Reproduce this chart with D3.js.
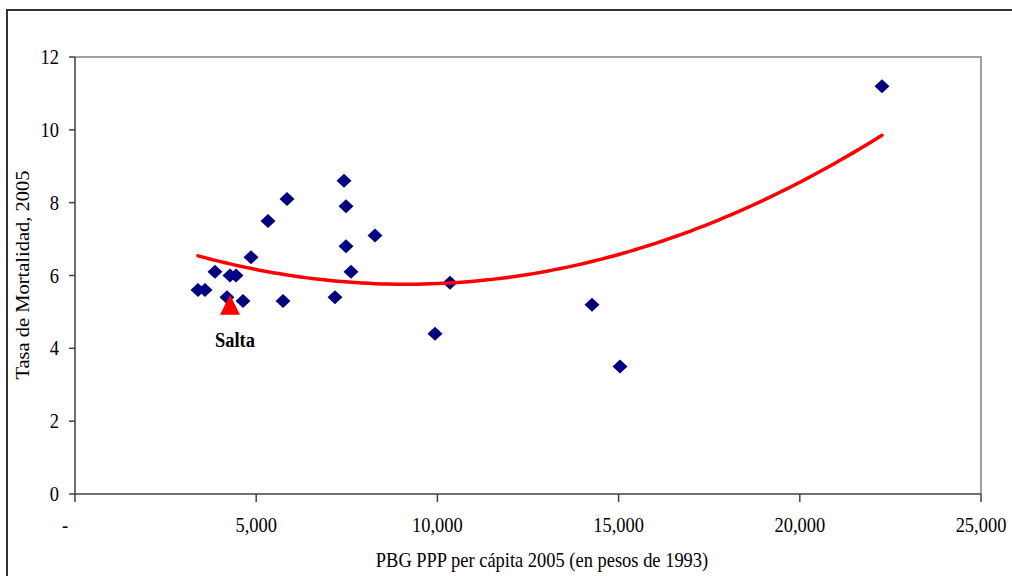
<!DOCTYPE html>
<html>
<head>
<meta charset="utf-8">
<script src="https://cdn.jsdelivr.net/npm/d3@7"></script>
<style>
  html, body { margin: 0; padding: 0; background: #fff; }
  svg { display: block; }
  text { font-family: "Liberation Serif", "Times New Roman", serif; fill: #000; }
</style>
</head>
<body>
<svg id="chart" width="1012" height="576"></svg>
<script>
// Provinces: GDP per capita 2005 (1993 pesos) and mortality rate 2005
const pbgPerCapita = [3394, 3587, 3863, 4194, 4277, 4443, 4636, 4857, 5326, 5850, 5740,
                      7174, 7423, 7478, 7478, 7616, 8278, 9934, 10348, 14266, 15039, 22268];
const mortalidad   = [5.6, 5.6, 6.1, 5.4, 6.0, 6.0, 5.3, 6.5, 7.5, 8.1, 5.3,
                      5.4, 8.6, 7.9, 6.8, 6.1, 7.1, 4.4, 5.8, 5.2, 3.5, 11.2];

// Highlighted province
const saltaPbg = [4277];
const saltaMort = [5.2];
const saltaLabel = ["Salta"];

const xTicks = [0, 5000, 10000, 15000, 20000, 25000];
const yTicks = [0, 2, 4, 6, 8, 10, 12];
const xTitle = "PBG PPP per cápita 2005 (en pesos de 1993)";
const yTitle = "Tasa de Mortalidad, 2005";

const svg = d3.select("#chart");
const fontSize = 20.5;
const squeeze = 0.9;   // glyphs are narrower than they are tall

const x = d3.scaleLinear().domain([0, 25000]).range([75, 981]);
const y = d3.scaleLinear().domain([0, 12]).range([494, 57]);

// outer chart frame
svg.append("rect")
  .attr("x", 7).attr("y", 10).attr("width", 1020).attr("height", 580)
  .attr("fill", "none").attr("stroke", "#333").attr("stroke-width", 2);

// plot area frame (top and right sides)
svg.append("path")
  .attr("d", `M${x(0)},${y(12)} H${x(25000)} V${y(0)}`)
  .attr("fill", "none").attr("stroke", "#a0a0a0").attr("stroke-width", 2);

function label(g, px, py, txt, opts = {}) {
  return g.append("text")
    .attr("transform", `translate(${px},${py}) scale(${squeeze},1) rotate(${opts.rotate || 0})`)
    .attr("text-anchor", opts.anchor || "middle")
    .style("font-size", (opts.size || fontSize) + "px")
    .style("font-weight", opts.weight || "normal")
    .text(txt);
}

// y axis
const yAxis = svg.append("g");
yAxis.append("line")
  .attr("x1", x(0)).attr("x2", x(0)).attr("y1", y(12)).attr("y2", y(0))
  .attr("stroke", "#404040").attr("stroke-width", 1.5);
yTicks.forEach(v => {
  yAxis.append("line")
    .attr("x1", x(0) - 6).attr("x2", x(0)).attr("y1", y(v)).attr("y2", y(v))
    .attr("stroke", "#404040").attr("stroke-width", 1.5);
  label(yAxis, x(0) - 16, y(v) + 7, String(v), { anchor: "end" });
});

// x axis
const xAxis = svg.append("g");
xAxis.append("line")
  .attr("x1", x(0)).attr("x2", x(25000)).attr("y1", y(0)).attr("y2", y(0))
  .attr("stroke", "#404040").attr("stroke-width", 1.5);
const fmt = d3.format(",");
xTicks.forEach(v => {
  xAxis.append("line")
    .attr("x1", x(v)).attr("x2", x(v)).attr("y1", y(0)).attr("y2", y(0) + 8)
    .attr("stroke", "#404040").attr("stroke-width", 1.5);
  if (v === 0) label(xAxis, x(v) - 10, 532, "-");
  else label(xAxis, x(v), 532, fmt(v));
});

// axis titles
label(svg, 542, 567, xTitle);
label(svg, 29, 275, yTitle, { rotate: -90 });

// quadratic least-squares trend of mortality on GDP per capita (all provinces)
function quadFit(xs, ys) {
  const s = [0, 0, 0, 0, 0], t = [0, 0, 0];
  xs.forEach((xv, i) => {
    const u = xv / 1000;
    let p = 1;
    for (let k = 0; k < 5; k++) { s[k] += p; if (k < 3) t[k] += p * ys[i]; p *= u; }
  });
  const A = [[s[0], s[1], s[2], t[0]], [s[1], s[2], s[3], t[1]], [s[2], s[3], s[4], t[2]]];
  for (let i = 0; i < 3; i++) {
    for (let j = i + 1; j < 3; j++) {
      const f = A[j][i] / A[i][i];
      for (let k = i; k < 4; k++) A[j][k] -= f * A[i][k];
    }
  }
  const c = [0, 0, 0];
  for (let i = 2; i >= 0; i--) {
    let sum = A[i][3];
    for (let k = i + 1; k < 3; k++) sum -= A[i][k] * c[k];
    c[i] = sum / A[i][i];
  }
  return xv => { const u = xv / 1000; return c[0] + c[1] * u + c[2] * u * u; };
}
const allPbg = pbgPerCapita.concat(saltaPbg);
const allMort = mortalidad.concat(saltaMort);
const trend = quadFit(allPbg, allMort);
const xMin = d3.min(allPbg), xMax = d3.max(allPbg);
const trendPts = d3.range(0, 101).map(i => {
  const xv = xMin + (xMax - xMin) * i / 100;
  return [xv, trend(xv)];
});

// data points
const diamond = "M0,-7 L7.5,0 L0,7 L-7.5,0 Z";
svg.append("g").selectAll("path")
  .data(pbgPerCapita.map((v, i) => [v, mortalidad[i]]))
  .join("path")
  .attr("d", diamond)
  .attr("transform", d => `translate(${x(d[0])},${y(d[1])})`)
  .attr("fill", "#000080");

svg.append("path")
  .datum(trendPts)
  .attr("d", d3.line().x(d => x(d[0])).y(d => y(d[1])))
  .attr("fill", "none").attr("stroke", "#ff0000").attr("stroke-width", 3.5)
  .attr("stroke-linecap", "round");

// highlighted province
const triangle = "M0,-10 L10,10 L-10,10 Z";
svg.append("g").selectAll("path")
  .data(saltaPbg.map((v, i) => [v, saltaMort[i]]))
  .join("path")
  .attr("d", triangle)
  .attr("transform", d => `translate(${x(d[0])},${y(d[1])})`)
  .attr("fill", "#ff0000");
saltaPbg.forEach((v, i) => {
  label(svg, x(v) + 5, y(saltaMort[i]) + 42, saltaLabel[i], { weight: "bold" });
});
</script>
</body>
</html>
